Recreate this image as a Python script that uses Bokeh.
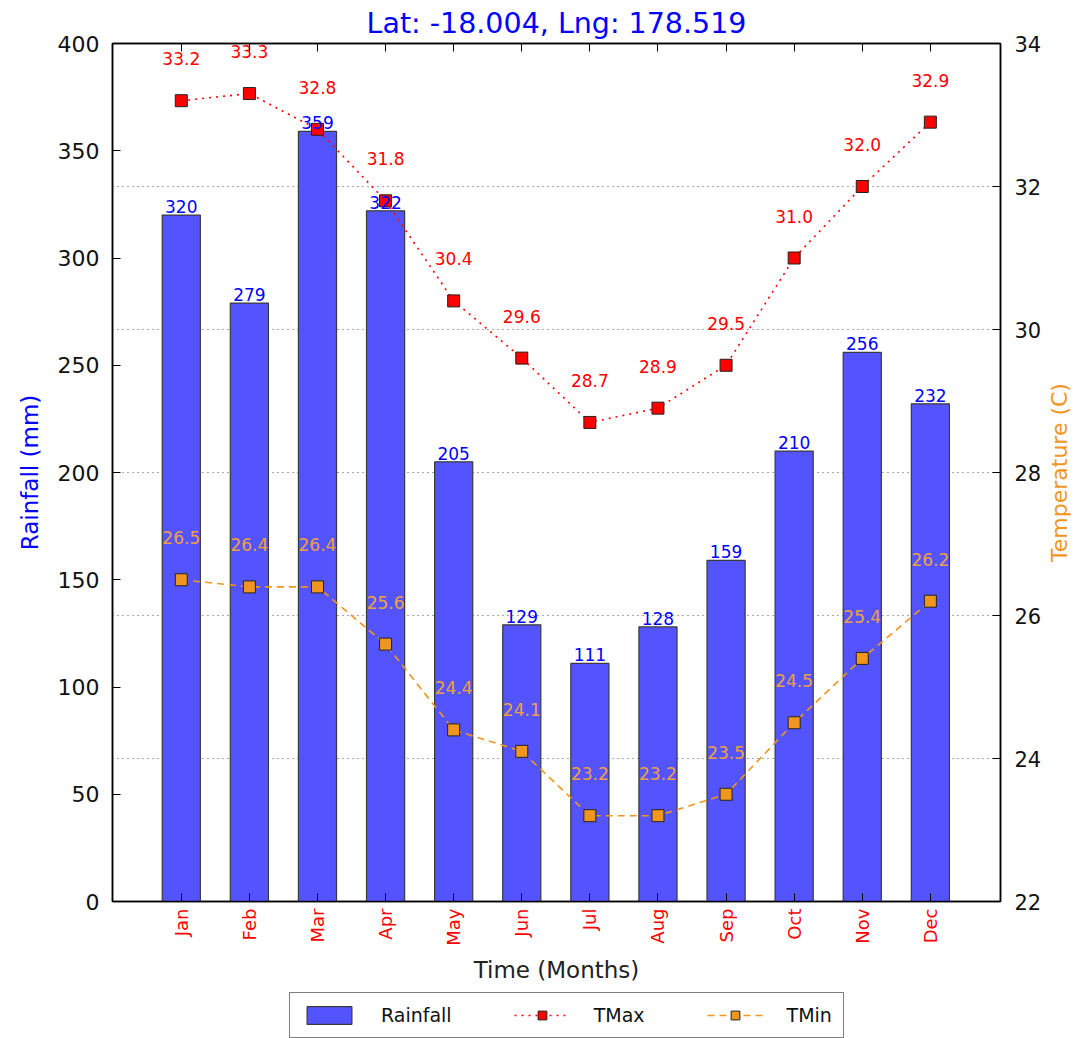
from math import pi
from bokeh.plotting import figure
from bokeh.layouts import column, row
from bokeh.models import (Range1d, LinearAxis, FixedTicker, SingleIntervalTicker,
                          Legend, LegendItem, Grid, ColumnDataSource, Label)
from bokeh.core.properties import value
from bokeh.embed import file_html
from bokeh.resources import INLINE

months = ["Jan", "Feb", "Mar", "Apr", "May", "Jun",
          "Jul", "Aug", "Sep", "Oct", "Nov", "Dec"]
rainfall = [320, 279, 359, 322, 205, 129, 111, 128, 159, 210, 256, 232]
tmax = [33.2, 33.3, 32.8, 31.8, 30.4, 29.6, 28.7, 28.9, 29.5, 31.0, 32.0, 32.9]
tmin = [26.5, 26.4, 26.4, 25.6, 24.4, 24.1, 23.2, 23.2, 23.5, 24.5, 25.4, 26.2]

FONT = "DejaVu Sans"
BLUE = "#5454ff"
ORANGE = "#f0961e"
ORANGE_TXT = "#f0a040"

xs = list(range(len(months)))
src = ColumnDataSource(dict(
    x=xs,
    rain=rainfall,
    rain_lbl=[str(v) for v in rainfall],
    tmax=tmax,
    tmax_lbl=["%.1f" % v for v in tmax],
    tmin=tmin,
    tmin_lbl=["%.1f" % v for v in tmin],
))

W_MAIN = 1044
W_LAB = 30
H_MAIN = 985
p = figure(width=W_MAIN, height=H_MAIN, x_range=Range1d(-1.01, 12.03),
           y_range=Range1d(0, 400), output_backend="svg", toolbar_location=None,
           title="Lat: -18.004, Lng: 178.519")
p.extra_y_ranges = {"temp": Range1d(22, 34)}

p.title.align = "center"
p.title.text_color = "blue"
p.title.text_font = FONT
p.title.text_font_size = "28.5px"
p.title.text_font_style = "normal"
p.title.standoff = 8

p.min_border_left = 112
p.min_border_right = 44
p.min_border_top = 43
p.min_border_bottom = 84
p.outline_line_color = "black"
p.outline_line_width = 1.5
p.background_fill_color = "white"
p.border_fill_color = "white"

p.xgrid.visible = False
p.ygrid.visible = False
p.add_layout(Grid(dimension=1, y_range_name="temp",
                  ticker=SingleIntervalTicker(interval=2),
                  grid_line_color="#555555", grid_line_dash="1 4",
                  grid_line_width=1.2))


def style_axis(ax, tick_size="22px"):
    ax.major_tick_in = 8
    ax.major_tick_out = 0
    ax.minor_tick_line_color = None
    ax.axis_line_color = "black"
    ax.axis_line_width = 1.5
    ax.major_tick_line_color = "black"
    ax.major_label_text_font = FONT
    ax.major_label_text_font_size = tick_size
    ax.major_label_text_color = "#111111"
    ax.axis_label_text_font = FONT
    ax.axis_label_text_font_style = "normal"


# left axis
ly = p.yaxis[0]
ly.ticker = SingleIntervalTicker(interval=50)
style_axis(ly, "22px")
ly.major_label_standoff = 9
ly.axis_label = "Rainfall (mm)"
ly.axis_label_text_color = "blue"
ly.axis_label_text_font_size = "23px"
ly.axis_label_standoff = 12

# right axis (its title is drawn in the narrow strip to the right)
ry = LinearAxis(y_range_name="temp", ticker=SingleIntervalTicker(interval=2))
style_axis(ry, "21px")
ry.major_label_standoff = 10
p.add_layout(ry, "right")

# bottom axis
bx = p.xaxis[0]
bx.ticker = FixedTicker(ticks=xs)
bx.major_label_overrides = {i: m for i, m in zip(xs, months)}
style_axis(bx, "18px")
bx.major_label_text_color = "red"
bx.major_label_orientation = pi / 2
bx.major_label_standoff = 7
bx.axis_label = "Time (Months)"
bx.axis_label_text_color = "#222222"
bx.axis_label_text_font_size = "23px"
bx.axis_label_standoff = 8

# top axis (ticks only)
tx = LinearAxis(ticker=FixedTicker(ticks=xs))
style_axis(tx, "0px")
tx.major_label_text_alpha = 0
tx.major_label_standoff = 0
p.add_layout(tx, "above")

BAR_STYLE = dict(fill_color=BLUE, line_color="#3a3a3a", line_width=1.2)
TMAX_LINE = dict(line_color="red", line_dash="2 5", line_width=1.6)
TMIN_LINE = dict(line_color=ORANGE, line_dash="7 5", line_width=1.6)
TMAX_PT = dict(marker="square", size=12, fill_color="red", line_color="#222222", line_width=1)
TMIN_PT = dict(marker="square", size=12, fill_color=ORANGE, line_color="#222222", line_width=1)

p.vbar(x="x", top="rain", width=0.56, source=src, **BAR_STYLE)
p.line("x", "tmax", source=src, y_range_name="temp", **TMAX_LINE)
p.scatter("x", "tmax", source=src, y_range_name="temp", **TMAX_PT)
p.line("x", "tmin", source=src, y_range_name="temp", **TMIN_LINE)
p.scatter("x", "tmin", source=src, y_range_name="temp", **TMIN_PT)

p.text("x", "rain", text="rain_lbl", source=src, text_align="center",
       text_baseline="bottom", y_offset=-2, text_color="blue",
       text_font=value(FONT), text_font_size="17px")
p.text("x", "tmax", text="tmax_lbl", source=src, y_range_name="temp",
       text_align="center", text_baseline="middle", y_offset=-42,
       text_color="red", text_font=value(FONT), text_font_size="17px")
p.text("x", "tmin", text="tmin_lbl", source=src, y_range_name="temp",
       text_align="center", text_baseline="middle", y_offset=-42,
       text_color=ORANGE_TXT, text_font=value(FONT), text_font_size="17px")

# narrow strip holding the right-axis title, reading bottom-to-top
lab = figure(width=W_LAB, height=H_MAIN, x_range=Range1d(0, 1), y_range=Range1d(0, 1),
             output_backend="svg", toolbar_location=None)
lab.axis.visible = False
lab.grid.visible = False
lab.outline_line_color = None
lab.min_border_left = 0
lab.min_border_right = 0
lab.min_border_top = 43
lab.min_border_bottom = 84
lab.border_fill_color = "white"
lab.add_layout(Label(x=0.5, y=0.5, text="Temperature (C)", angle=pi / 2,
                     text_align="center", text_baseline="middle",
                     text_color=ORANGE, text_font=FONT, text_font_size="22px"))

# legend strip below the chart (glyphs kept outside its visible range)
lg = figure(width=W_MAIN + W_LAB, height=53, x_range=Range1d(1000, 1001),
            y_range=Range1d(1000, 1001), output_backend="svg", toolbar_location=None)
lg.axis.visible = False
lg.grid.visible = False
lg.outline_line_color = None
lg.min_border_left = 112
lg.min_border_right = 0
lg.min_border_top = 0
lg.min_border_bottom = 0
lg.border_fill_color = "white"
lb = lg.vbar(x="x", top="rain", width=0.56, source=src, **BAR_STYLE)
l1 = lg.line("x", "tmax", source=src, **TMAX_LINE)
s1 = lg.scatter("x", "tmax", source=src, **TMAX_PT)
l2 = lg.line("x", "tmin", source=src, **TMIN_LINE)
s2 = lg.scatter("x", "tmin", source=src, **TMIN_PT)

legend = Legend(items=[
    LegendItem(label="Rainfall", renderers=[lb]),
    LegendItem(label="TMax", renderers=[l1, s1]),
    LegendItem(label="TMin", renderers=[l2, s2]),
], orientation="horizontal", location=(177, 0))
legend.border_line_color = "black"
legend.border_line_width = 1.5
legend.background_fill_color = "white"
legend.background_fill_alpha = 1
legend.label_text_font = FONT
legend.label_text_font_size = "19px"
legend.label_text_color = "#111111"
legend.glyph_width = 56
legend.glyph_height = 22
legend.label_standoff = 24
legend.spacing = 62
legend.padding = 11
legend.margin = 0
lg.add_layout(legend, "center")

layout = column(row(p, lab, spacing=0), lg, spacing=0)
open("out.html", "w").write(file_html(layout, INLINE))
